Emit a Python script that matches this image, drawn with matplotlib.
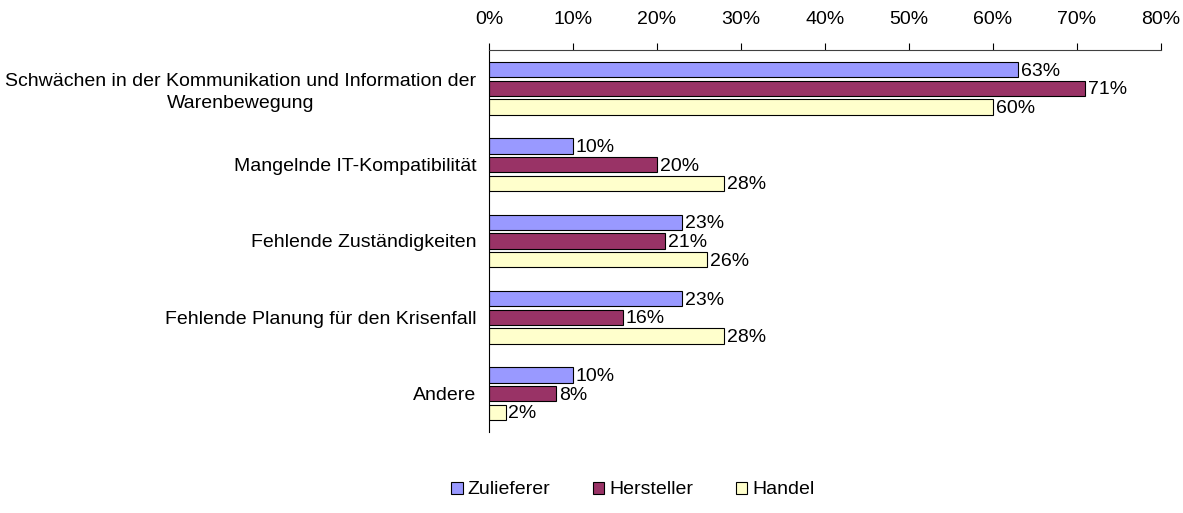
import numpy as np
import matplotlib.pyplot as plt
from matplotlib.ticker import FuncFormatter

plt.rcParams['font.family'] = ['Liberation Sans', 'DejaVu Sans']

categories = ['Schwächen in der Kommunikation und Information der\nWarenbewegung',
              'Mangelnde IT-Kompatibilität',
              'Fehlende Zuständigkeiten',
              'Fehlende Planung für den Krisenfall',
              'Andere']
series_names = ['Zulieferer', 'Hersteller', 'Handel']
zulieferer = [63, 10, 23, 23, 10]
hersteller = [71, 20, 21, 16, 8]
handel = [60, 28, 26, 28, 2]
colors = ['#9999FF', '#993366', '#FFFFCC']

FS = 14

fig = plt.figure(figsize=(11.83, 5.13), dpi=100)
ax = fig.add_axes([0.4134, 0.158, 0.568, 0.7445])

y = np.arange(len(categories))
step = 0.245
height = 0.2
for i, (name, vals) in enumerate(zip(series_names, [zulieferer, hersteller, handel])):
    pos = y + (i - 1) * step
    ax.barh(pos, vals, height=height, color=colors[i], edgecolor='black',
            linewidth=0.8, label=name)
    for p, v in zip(pos, vals):
        ax.text(v + 0.3, p + 0.02, f'{v}%', va='center', ha='left', fontsize=FS)

ax.set_xlim(0, 80)
ax.set_ylim(len(categories) - 0.5, -0.5)
ax.set_xticks(range(0, 81, 10))
ax.xaxis.set_major_formatter(FuncFormatter(lambda v, _: f'{v:.0f}%'))
ax.xaxis.tick_top()
ax.tick_params(axis='x', direction='out', length=5, width=0.8, labelsize=FS, pad=11)
ax.set_yticks(y)
ax.set_yticklabels(categories, fontsize=FS, multialignment='center', linespacing=1.35)
ax.tick_params(axis='y', length=0, pad=9)
for s in ['right', 'bottom']:
    ax.spines[s].set_visible(False)
ax.spines['top'].set_color('#404040')
ax.spines['left'].set_color('black')

leg = fig.legend(loc='center', bbox_to_anchor=(0.535, 0.045), ncol=3, frameon=False,
                 fontsize=FS, handlelength=0.57, handleheight=0.57, handletextpad=0.26,
                 columnspacing=2.2)

fig.savefig('out.png', dpi=100)
